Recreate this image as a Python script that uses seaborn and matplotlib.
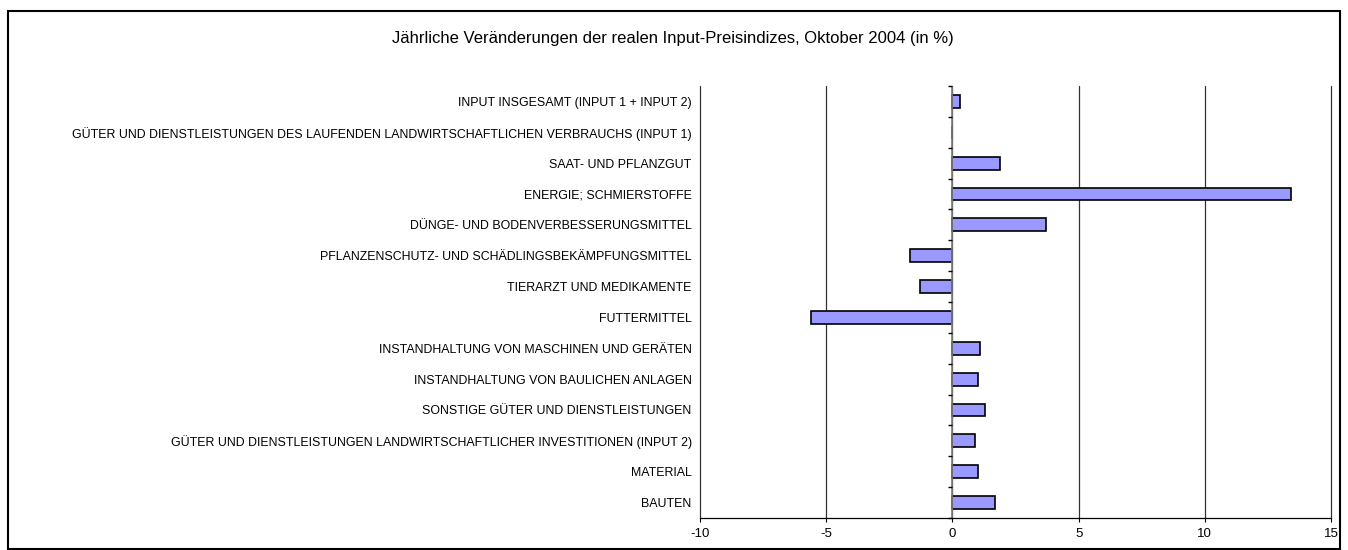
import matplotlib
matplotlib.use("Agg")
import matplotlib.pyplot as plt
import seaborn as sns
import numpy as np
from matplotlib.patches import Rectangle

# categories (top to bottom) and yearly change in %
categories = [
    "INPUT INSGESAMT (INPUT 1 + INPUT 2)",
    "GÜTER UND DIENSTLEISTUNGEN DES LAUFENDEN LANDWIRTSCHAFTLICHEN VERBRAUCHS (INPUT 1)",
    "SAAT- UND PFLANZGUT",
    "ENERGIE; SCHMIERSTOFFE",
    "DÜNGE- UND BODENVERBESSERUNGSMITTEL",
    "PFLANZENSCHUTZ- UND SCHÄDLINGSBEKÄMPFUNGSMITTEL",
    "TIERARZT UND MEDIKAMENTE",
    "FUTTERMITTEL",
    "INSTANDHALTUNG VON MASCHINEN UND GERÄTEN",
    "INSTANDHALTUNG VON BAULICHEN ANLAGEN",
    "SONSTIGE GÜTER UND DIENSTLEISTUNGEN",
    "GÜTER UND DIENSTLEISTUNGEN LANDWIRTSCHAFTLICHER INVESTITIONEN (INPUT 2)",
    "MATERIAL",
    "BAUTEN",
]
values = [0.3, 0.0, 1.9, 13.4, 3.7, -1.7, -1.3, -5.6, 1.1, 1.0, 1.3, 0.9, 1.0, 1.7]
xticks = [-10, -5, 0, 5, 10, 15]

sns.set_style("white")
plt.rcParams['font.family'] = ['Liberation Sans', 'DejaVu Sans']
plt.rcParams['text.color'] = 'black'
plt.rcParams['xtick.color'] = 'black'
plt.rcParams['ytick.color'] = 'black'

fig = plt.figure(figsize=(13.48, 5.5), dpi=100)
ax = fig.add_axes([0.5193, 0.0582, 0.4681, 0.7854])

sns.barplot(x=values, y=categories, orient='h', color='#9999ff',
            edgecolor='black', linewidth=1.2, width=0.42, saturation=1, ax=ax)

ax.set_xlim(-10, 15)
ax.set_ylim(len(categories) - 0.5, -0.5)
ax.set_xticks(xticks)
ax.set_xticklabels([str(t) for t in xticks], fontsize=9.5)
ax.tick_params(axis='x', length=3, width=0.8, color='black', pad=4, bottom=True)
ax.tick_params(axis='y', length=0, pad=6, labelsize=8.9)

# vertical gridlines
for t in xticks:
    ax.axvline(t, color='#333333', lw=0.9, zorder=0, clip_on=False)
# category axis at zero with small ticks between categories
ax.axvline(0, color='#808080', lw=1.2, zorder=1)
ax.plot(np.zeros(len(categories) + 1), np.arange(len(categories) + 1) - 0.5,
        ls='none', marker=0, ms=3, mew=1, color='black', clip_on=False)

for s in ['left', 'top', 'right']:
    ax.spines[s].set_visible(False)
ax.spines['bottom'].set_color('black')
ax.spines['bottom'].set_linewidth(0.9)
ax.set_xlabel('')
ax.set_ylabel('')

fig.text(0.4993, 0.93, "Jährliche Veränderungen der realen Input-Preisindizes, Oktober 2004 (in %)",
         ha='center', va='center', fontsize=12, color='black')

# outer frame
fig.patches.append(Rectangle((0.006, 0.002), 0.988, 0.978, transform=fig.transFigure,
                             fill=False, edgecolor='black', lw=1.5))

fig.savefig("out.png", dpi=100)
